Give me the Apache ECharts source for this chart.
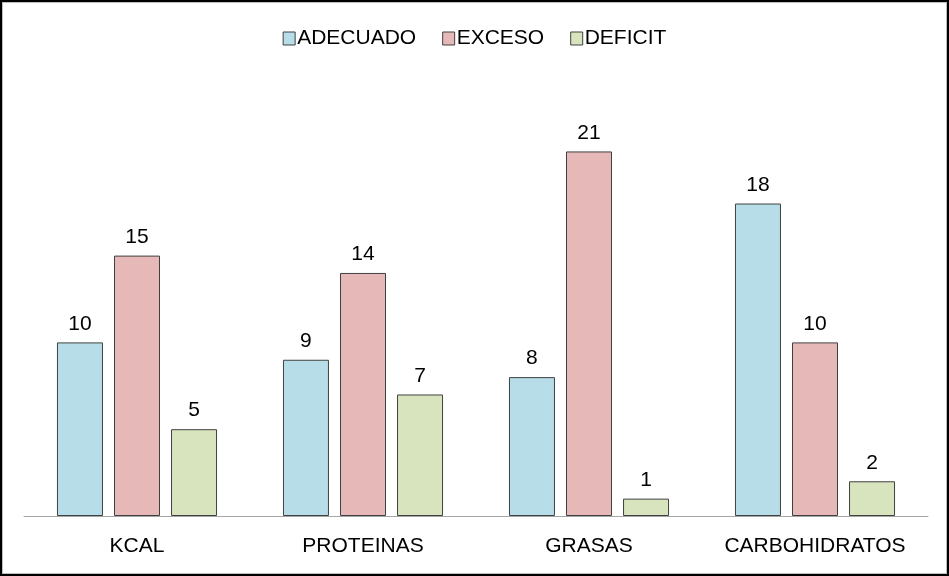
<!DOCTYPE html>
<html><head><meta charset="utf-8">
<script src="https://cdn.jsdelivr.net/npm/echarts@6/dist/echarts.min.js"></script>
<style>
html,body{margin:0;padding:0;background:#fff;}
#c{position:absolute;left:0;top:0;width:949px;height:576px;}
#f{position:absolute;left:0;top:0;width:949px;height:576px;box-sizing:border-box;border:2px solid #000;box-shadow:inset 0 0 0 1px #bdbdbd;pointer-events:none;}
</style></head>
<body><div id="c"></div><div id="f"></div>
<script>
const categories = ['KCAL','PROTEINAS','GRASAS','CARBOHIDRATOS'];
const adecuado = [10, 9, 8, 18];
const exceso = [15, 14, 21, 10];
const deficit = [5, 7, 1, 2];
const seriesNames = ['ADECUADO','EXCESO','DEFICIT'];
const colors = ['#b7dde8','#e6b9b8','#d7e4bd'];
const font = 'Liberation Sans, Arial, sans-serif';
const chart = echarts.init(document.getElementById('c'));
const mk = (name, data, color) => ({
  name, type:'bar', data, barWidth:46, barGap:'24%',
  itemStyle:{color, borderColor:'#404040', borderWidth:1},
  label:{show:true, position:'top', distance:8, color:'#000', fontSize:21, fontFamily:font}
});
chart.setOption({
  animation:false,
  legend:{top:23, left:'center', itemWidth:12, itemHeight:13, itemGap:26,
    icon:'rect', textStyle:{fontSize:21, fontFamily:font, color:'#000', padding:[0,0,0,-3]},
    itemStyle:{borderColor:'#404040', borderWidth:1}},
  grid:{left:24, right:21, top:82, bottom:60},
  xAxis:{type:'category', data:categories,
    axisLine:{lineStyle:{color:'#a6a6a6', width:1}}, axisTick:{show:false},
    axisLabel:{color:'#000', fontSize:21, fontFamily:font, margin:20, interval:0, hideOverlap:false}},
  yAxis:{type:'value', min:0, max:25, show:false, splitLine:{show:false}},
  series:[mk(seriesNames[0], adecuado, colors[0]), mk(seriesNames[1], exceso, colors[1]), mk(seriesNames[2], deficit, colors[2])]
});
</script></body></html>
